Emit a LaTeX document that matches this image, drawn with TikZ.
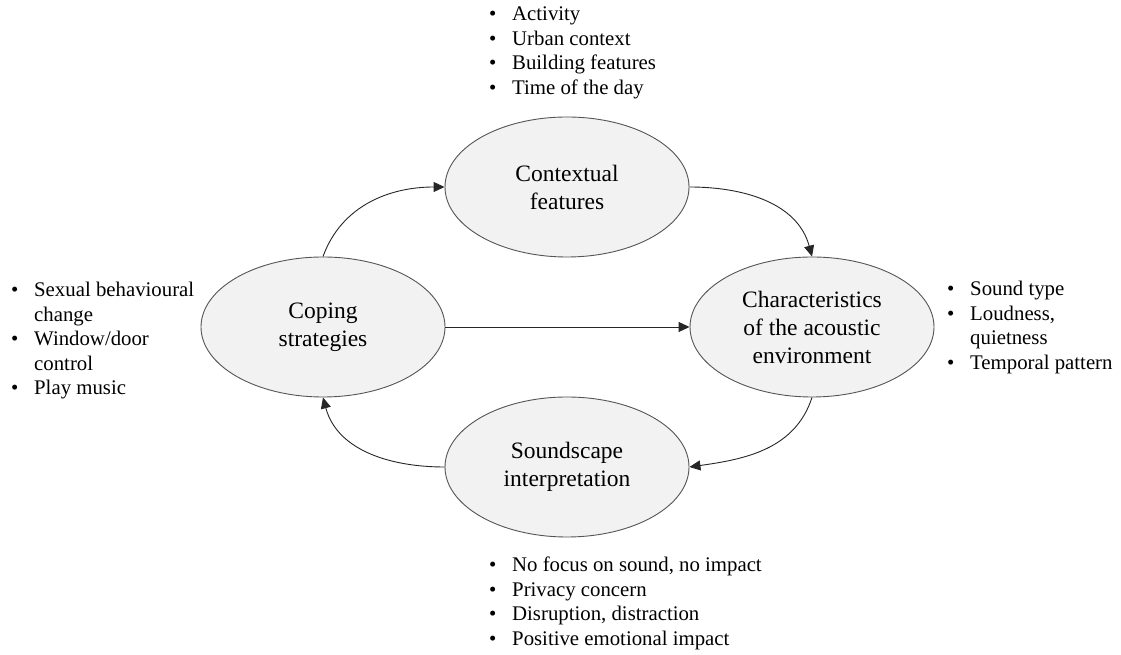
\documentclass[tikz,border=0pt]{standalone}
\usepackage{fontspec}
\setmainfont{Liberation Serif}
\usetikzlibrary{shapes.geometric,arrows.meta}
\definecolor{ellfill}{HTML}{F2F2F2}
\definecolor{ellline}{HTML}{555555}
\newcommand{\bul}{\makebox[23pt][l]{\textbullet}}
\begin{document}
\begin{tikzpicture}[x=1pt,y=1pt,
  ell/.style={ellipse,draw=ellline,line width=0.9pt,fill=ellfill,minimum width=244pt,minimum height=140pt,inner sep=0pt,align=center,font=\fontsize{23.5}{28}\selectfont},
  blist/.style={anchor=base west,inner sep=0pt,font=\fontsize{20.8}{24.5}\selectfont},
  arr/.style={line width=0.9pt,draw=black!85,-{Triangle[length=11pt,width=10pt]}}]
\useasboundingbox (0,0) rectangle (1121,655);
\node[ell] (ctx) at (567,468) {Contextual\\features};
\node[ell] (cop) at (323,328) {Coping\\strategies};
\node[ell] (chr) at (812,328) {Characteristics\\of the acoustic\\environment};
\node[ell] (snd) at (567,188) {Soundscape\\interpretation};
\draw[arr] (cop.north) to[out=70,in=180] (ctx.west);
\draw[arr] (ctx.east) to[out=0,in=105] (chr.north);
\draw[arr] (chr.south) to[out=-108,in=8] (snd.east);
\draw[arr] (snd.west) to[out=180,in=-75] (cop.south);
\draw[arr] (cop.east) -- (chr.west);
\node[blist] (ltop) at (489,634) {\begin{tabular}[t]{@{}l@{}}
\bul Activity\\ \bul Urban context\\ \bul Building features\\ \bul Time of the day\end{tabular}};
\node[blist] (lleft) at (11,358) {\begin{tabular}[t]{@{}l@{}}
\bul Sexual behavioural\\ \hspace*{23pt}change\\ \bul Window/door\\ \hspace*{23pt}control\\ \bul Play music\end{tabular}};
\node[blist] (lright) at (947,359) {\begin{tabular}[t]{@{}l@{}}
\bul Sound type\\ \bul Loudness,\\ \hspace*{23pt}quietness\\ \bul Temporal pattern\end{tabular}};
\node[blist] (lbot) at (489,83) {\begin{tabular}[t]{@{}l@{}}
\bul No focus on sound, no impact\\ \bul Privacy concern\\ \bul Disruption, distraction\\ \bul Positive emotional impact\end{tabular}};
\end{tikzpicture}
\end{document}
